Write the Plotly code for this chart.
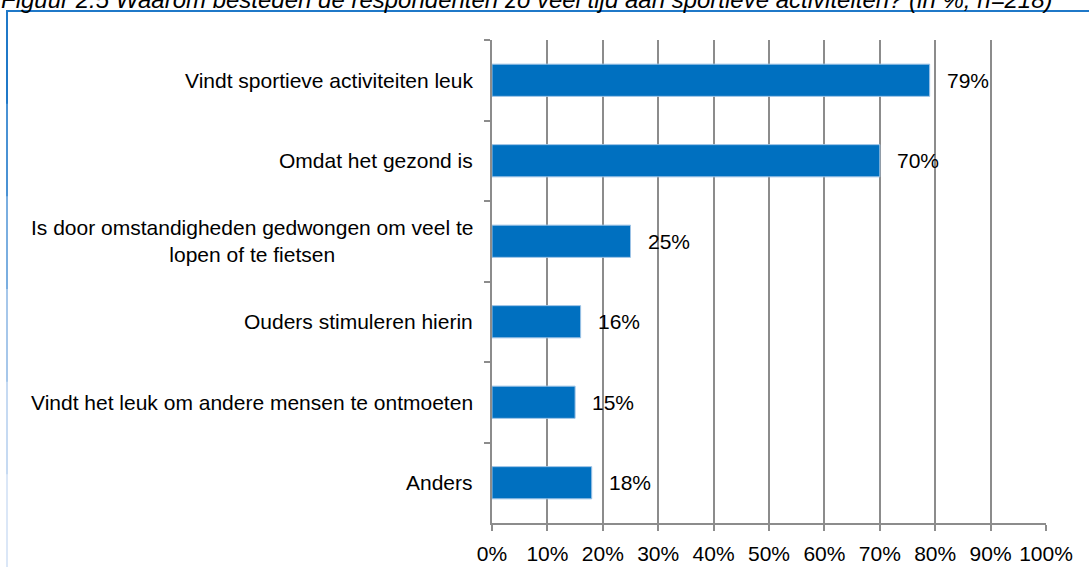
'''
    Horizontal bar chart: waarom besteden de respondenten veel tijd aan sport.
'''
import plotly.graph_objects as go

# data (top to bottom)
redenen = [
    'Vindt sportieve activiteiten leuk',
    'Omdat het gezond is',
    'Is door omstandigheden gedwongen om veel te<br>lopen of te fietsen',
    'Ouders stimuleren hierin',
    'Vindt het leuk om andere mensen te ontmoeten',
    'Anders',
]
percentages = [79, 70, 25, 16, 15, 18]
x_ticks = list(range(0, 101, 10))
x_tick_labels = [f'{v}%' for v in x_ticks]

TITEL = ('Figuur 2.5 Waarom besteden de respondenten zo veel tijd aan '
         'sportieve activiteiten? (in %, n=218)')

FONT = 'Arial, "Liberation Sans", sans-serif'
BLAUW = '#0070C0'

# plot area in pixels (used to convert frame positions to paper coords)
L, R, T, B = 492, 43, 40, 44
W, H = 1089, 567
PW, PH = W - L - R, H - T - B


def px_x(p):
    return (p - L) / PW


def px_y(p):
    return (H - B - p) / PH


fig = go.Figure()

fig.add_trace(go.Bar(
    x=percentages,
    y=redenen,
    orientation='h',
    marker=dict(color=BLAUW, line=dict(color='#9dc3e6', width=1)),
    hoverinfo='skip',
))

# category labels, centred per line like in the original
for r in redenen:
    fig.add_annotation(
        x=0, xref='paper', y=r, yref='y',
        text=r, showarrow=False,
        xanchor='right', yanchor='middle', align='center',
        xshift=-17,
        font=dict(family=FONT, size=21, color='#000000'),
    )

# value labels next to the bars
for r, v in zip(redenen, percentages):
    fig.add_annotation(
        x=v, y=r, text=f'{v}%', showarrow=False,
        xanchor='left', yanchor='middle', xshift=15,
        font=dict(family=FONT, size=21, color='#000000'),
    )

# title, partly cut off at the top of the image (as in the original)
fig.add_annotation(
    x=px_x(-1), xref='paper', y=px_y(15), yref='paper',
    text='<i>' + TITEL + '</i>', showarrow=False,
    xanchor='left', yanchor='bottom',
    font=dict(family=FONT, size=24, color='#000000'),
)

# blue frame: top line and left line fading out
fig.add_shape(type='line', xref='paper', yref='paper',
              x0=px_x(6), x1=px_x(1095), y0=px_y(11), y1=px_y(11),
              line=dict(color='#1f78c8', width=2))
fade = ['#1f78c8', '#4a92d4', '#7aaee0', '#a6c7ea', '#c6daf2', '#dbe7f7']
step = (H - 11) / len(fade)
for i, c in enumerate(fade):
    fig.add_shape(type='line', xref='paper', yref='paper',
                  x0=px_x(7), x1=px_x(7),
                  y0=px_y(11 + i * step), y1=px_y(11 + (i + 1) * step + 1),
                  line=dict(color=c, width=2))

fig.update_xaxes(
    range=[0, 100],
    tickvals=x_ticks, ticktext=x_tick_labels,
    showgrid=True, gridcolor='#8c8c8c', gridwidth=1.5,
    showline=True, linecolor='#8c8c8c', linewidth=1.5,
    ticks='outside', ticklen=6, tickcolor='#8c8c8c', tickwidth=1.5,
    ticklabelstandoff=5, automargin=False,
    tickfont=dict(family=FONT, size=21, color='#000000'),
    zeroline=False, fixedrange=True,
)
fig.update_yaxes(
    categoryorder='array', categoryarray=redenen, autorange='reversed',
    showticklabels=False, tickson='boundaries', automargin=False,
    showline=True, linecolor='#8c8c8c', linewidth=1.5,
    ticks='outside', ticklen=6, tickcolor='#8c8c8c', tickwidth=1.5,
    showgrid=False, fixedrange=True,
)

fig.update_layout(
    width=W, height=H,
    margin=dict(l=L, r=R, t=T, b=B, autoexpand=False),
    paper_bgcolor='#ffffff', plot_bgcolor='#ffffff',
    bargap=0.6, showlegend=False, dragmode=False,
)

# no page margin, so the figure fills the window exactly
fig.write_html('out.html', config={'displayModeBar': False},
               post_script="document.body.style.margin='0';")
